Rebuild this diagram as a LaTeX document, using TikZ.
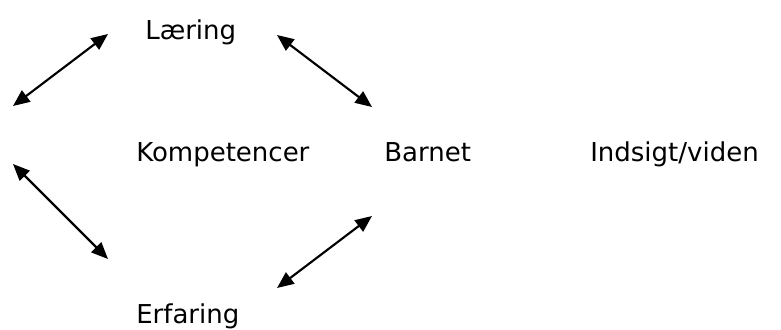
\documentclass[tikz,border=0pt]{standalone}
\usepackage{fontspec}
\setmainfont{DejaVu Sans}
\usetikzlibrary{arrows.meta}
\begin{document}
\begin{tikzpicture}[x=0.75pt,y=-0.75pt,
  lbl/.style={anchor=base west,inner sep=0pt,font=\fontsize{19.5pt}{22pt}\selectfont},
  dbl/.style={line width=1.6pt,{Triangle[length=12.5pt,width=10.5pt]}-{Triangle[length=12.5pt,width=10.5pt]}}]
\useasboundingbox (0,0) rectangle (781,329);
\node[lbl] (laering) at (145,39) {Læring};
\node[lbl] (komp) at (136,161) {Kompetencer};
\node[lbl] (barnet) at (384,161) {Barnet};
\node[lbl] (indsigt) at (590,161) {Indsigt/viden};
\node[lbl] (erfaring) at (136,323) {Erfaring};
\coordinate (a1) at (13,106);
\coordinate (a2) at (108,34);
\coordinate (b1) at (277,35);
\coordinate (b2) at (372,107);
\coordinate (c1) at (13,164);
\coordinate (c2) at (108,259);
\coordinate (d1) at (277,288);
\coordinate (d2) at (372,216);
\draw[dbl] (a1) -- (a2);
\draw[dbl] (b1) -- (b2);
\draw[dbl] (c1) -- (c2);
\draw[dbl] (d1) -- (d2);
\end{tikzpicture}
\end{document}
